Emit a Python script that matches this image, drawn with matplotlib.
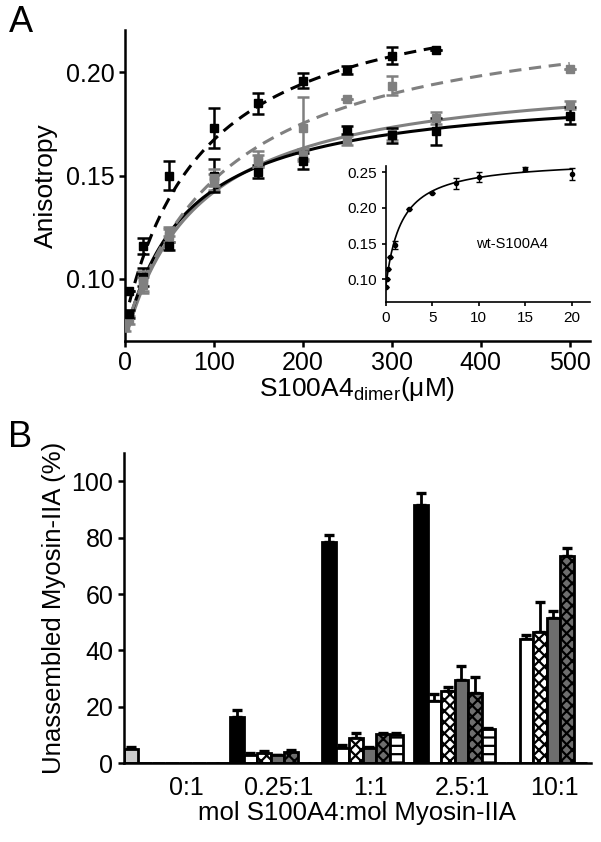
import matplotlib
matplotlib.use('Agg')
import matplotlib.pyplot as plt
import numpy as np

plt.rcParams['font.family'] = ['Liberation Sans', 'DejaVu Sans']
plt.rcParams['hatch.linewidth'] = 1.6
plt.rcParams['hatch.color'] = 'black'

# ---- panel A: anisotropy titrations ----
# black dashed series
bd_x = [5, 20, 50, 100, 150, 200, 250, 300, 350]
bd_y = [0.094, 0.116, 0.150, 0.173, 0.185, 0.196, 0.201, 0.208, 0.211]
bd_e = [0.0, 0.004, 0.007, 0.0095, 0.005, 0.0035, 0.002, 0.004, 0.0]
# grey dashed series
gd_x = [0, 20, 50, 100, 150, 200, 250, 300, 500]
gd_y = [0.077, 0.099, 0.121, 0.149, 0.158, 0.173, 0.187, 0.1935, 0.2015]
gd_e = [0.002, 0.005, 0.003, 0.004, 0.004, 0.015, 0.0, 0.0045, 0.0]
# grey solid series
gs_x = [5, 20, 50, 100, 150, 200, 250, 300, 350, 500]
gs_y = [0.080, 0.097, 0.123, 0.147, 0.157, 0.160, 0.167, 0.170, 0.178, 0.184]
gs_e = [0.002, 0.004, 0.002, 0.004, 0.003, 0.003, 0.002, 0.003, 0.003, 0.002]
# black solid series
bs_x = [5, 20, 50, 100, 150, 200, 250, 300, 350, 500]
bs_y = [0.083, 0.101, 0.116, 0.150, 0.152, 0.157, 0.172, 0.1695, 0.1715, 0.179]
bs_e = [0.002, 0.0045, 0.002, 0.008, 0.003, 0.004, 0.002, 0.0035, 0.0065, 0.004]

# hyperbolic fit parameters (y0, amplitude, K, x range)
fits = {
    'gs': (0.070, 0.132, 83, 5, 500),
    'bs': (0.072, 0.121, 70, 5, 500),
    'gd': (0.075, 0.160, 119, 0, 500),
    'bd': (0.080, 0.166, 90, 5, 350),
}

# inset: wt-S100A4
wt_x = [0, 0.1, 0.25, 0.5, 1, 2.5, 5, 7.5, 10, 15, 20]
wt_y = [0.090, 0.101, 0.115, 0.131, 0.148, 0.199, 0.221, 0.234, 0.243, 0.254, 0.247]
wt_e = [0.0, 0.0, 0.0, 0.0, 0.005, 0.0, 0.0, 0.008, 0.007, 0.003, 0.008]
wt_fit = (0.090, 0.1775, 1.65, 0, 20)

# ---- panel B: unassembled myosin ----
groups = ['0:1', '0.25:1', '1:1', '2.5:1', '10:1']
light_v = [4.8, 0, 0, 0, 0]
light_e = [1.0, 0, 0, 0, 0]
black_v = [0, 16.2, 78.5, 91.5, 0]
black_e = [0, 2.5, 2.5, 4.5, 0]
white_v = [0, 3.0, 5.5, 22.0, 44.0]
white_e = [0, 0.4, 1.0, 2.5, 1.5]
xwhite_v = [0, 3.5, 9.0, 25.5, 46.5]
xwhite_e = [0, 0.6, 1.8, 1.5, 10.5]
grey_v = [0, 2.7, 5.5, 29.5, 51.5]
grey_e = [0, 0.3, 0.3, 5.0, 2.5]
xdark_v = [0, 4.0, 10.3, 25.0, 73.5]
xdark_e = [0, 0.7, 0.5, 5.5, 3.0]
hline_v = [0, 0, 10.0, 12.0, 0]
hline_e = [0, 0, 0.5, 0.5, 0]


def hyper(p):
    y0, a, k, x0, x1 = p
    x = np.linspace(x0, x1, 300)
    return x, y0 + a * x / (k + x)


def style_axes(ax, lw=1.8, size=18, length=4):
    for s in ['top', 'right']:
        ax.spines[s].set_visible(False)
    for s in ['left', 'bottom']:
        ax.spines[s].set_linewidth(lw)
    ax.tick_params(width=lw, length=length, labelsize=size, direction='out')


fig = plt.figure(figsize=(6.01, 8.42), dpi=100)

axA = fig.add_axes([0.208, 0.595, 0.774, 0.369])
series = [
    (gs_x, gs_y, gs_e, 'gs', '#808080', '-'),
    (bs_x, bs_y, bs_e, 'bs', 'black', '-'),
    (gd_x, gd_y, gd_e, 'gd', '#808080', (0, (4, 2.5))),
    (bd_x, bd_y, bd_e, 'bd', 'black', (0, (4, 2.5))),
]
for x, y, e, key, col, ls in series:
    fx, fy = hyper(fits[key])
    axA.plot(fx, fy, color=col, lw=2.2, ls=ls, zorder=2)
    axA.errorbar(x, y, yerr=e, fmt='s', color=col, ms=6, capsize=4,
                 elinewidth=1.8, capthick=1.8, zorder=3)
axA.set_xlim(0, 523)
axA.set_ylim(0.070, 0.2203)
axA.set_xticks([0, 100, 200, 300, 400, 500])
axA.set_yticks([0.10, 0.15, 0.20])
axA.set_yticklabels(['0.10', '0.15', '0.20'])
style_axes(axA)
axA.set_ylabel('Anisotropy', fontsize=19, labelpad=6)
axA.set_xlabel(r'S100A4$_{\mathregular{dimer}}$(μM)', fontsize=19, labelpad=0)

ins = fig.add_axes([0.642, 0.641, 0.339, 0.1615])
ins.patch.set_alpha(0)
fx, fy = hyper(wt_fit)
ins.plot(fx, fy, color='black', lw=1.2)
ins.errorbar(wt_x, wt_y, yerr=wt_e, fmt='o', color='black', ms=3, capsize=2.5,
             elinewidth=1, capthick=1)
ins.set_xlim(0, 21.9)
ins.set_ylim(0.068, 0.258)
ins.set_xticks([0, 5, 10, 15, 20])
ins.set_yticks([0.10, 0.15, 0.20, 0.25])
ins.set_yticklabels(['0.10', '0.15', '0.20', '0.25'])
style_axes(ins, lw=1.2, size=11, length=3)
ins.text(13.6, 0.150, 'wt-S100A4', fontsize=10.5, ha='center', va='center')

axB = fig.add_axes([0.206, 0.0938, 0.777, 0.368])
w = 0.147
bar_sets = [
    (light_v, light_e, '#cccccc', None),
    (black_v, black_e, 'black', None),
    (white_v, white_e, 'white', None),
    (xwhite_v, xwhite_e, 'white', 'xxx'),
    (grey_v, grey_e, '#6e6e6e', None),
    (xdark_v, xdark_e, '#6e6e6e', 'xxx'),
    (hline_v, hline_e, 'white', '--'),
]
idx = np.arange(len(groups))
for k, (v, e, fc, hatch) in enumerate(bar_sets):
    pos = idx + (k - 3) * w
    axB.bar(pos, v, width=w, color=fc, edgecolor='black', linewidth=2.0,
            hatch=hatch, zorder=2)
    v = np.array(v)
    e = np.array(e)
    m = e > 0
    axB.errorbar(pos[m], v[m], yerr=[np.zeros(m.sum()), e[m]], fmt='none',
                 ecolor='black', elinewidth=2.0, capsize=3.5, capthick=2.4,
                 zorder=1)
axB.set_xlim(-0.522, 4.554)
axB.set_ylim(0, 110)
axB.set_yticks([0, 20, 40, 60, 80, 100])
axB.set_xticks(idx + 1.1 * w)
axB.set_xticklabels(groups)
style_axes(axB)
axB.tick_params(axis='x', length=0, pad=9)
axB.set_ylabel('Unassembled Myosin-IIA (%)', fontsize=18.5, labelpad=4)
axB.set_xlabel('mol S100A4:mol Myosin-IIA', fontsize=18.5, labelpad=1)

fig.text(0.035, 0.973, 'A', fontsize=26, ha='center', va='center')
fig.text(0.034, 0.480, 'B', fontsize=26, ha='center', va='center')

fig.savefig('out.png', dpi=100)
